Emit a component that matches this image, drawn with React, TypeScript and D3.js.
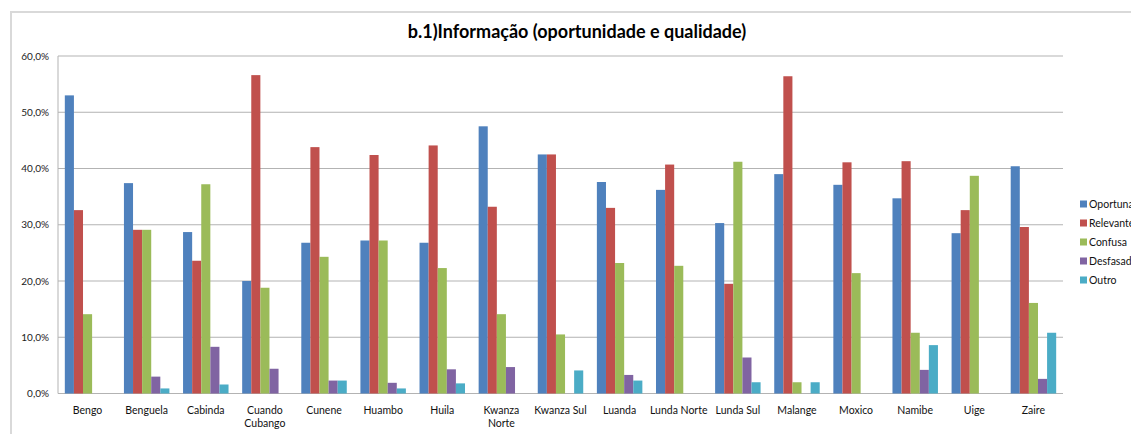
import * as d3 from "d3";

const CATEGORIES = [
  "Bengo", "Benguela", "Cabinda", "Cuando\nCubango", "Cunene", "Huambo", "Huila",
  "Kwanza\nNorte", "Kwanza Sul", "Luanda", "Lunda Norte", "Lunda Sul", "Malange",
  "Moxico", "Namibe", "Uige", "Zaire",
];

const SERIES = ["Oportuna", "Relevante", "Confusa", "Desfasada", "Outro"];

const OPORTUNA = [53.0, 37.4, 28.7, 20.0, 26.8, 27.2, 26.8, 47.5, 42.5, 37.6, 36.2, 30.3, 39.0, 37.1, 34.7, 28.5, 40.4];
const RELEVANTE = [32.6, 29.1, 23.6, 56.6, 43.8, 42.4, 44.1, 33.2, 42.5, 33.0, 40.7, 19.5, 56.4, 41.1, 41.3, 32.6, 29.6];
const CONFUSA = [14.1, 29.1, 37.2, 18.8, 24.3, 27.2, 22.3, 14.1, 10.5, 23.2, 22.7, 41.2, 2.0, 21.4, 10.8, 38.7, 16.1];
const DESFASADA = [0, 3.0, 8.3, 4.4, 2.3, 1.9, 4.3, 4.7, 0, 3.3, 0, 6.4, 0, 0, 4.2, 0, 2.6];
const OUTRO = [0, 0.9, 1.6, 0, 2.3, 0.9, 1.8, 0, 4.1, 2.3, 0, 2.0, 2.0, 0, 8.6, 0, 10.8];

const VALUES = [OPORTUNA, RELEVANTE, CONFUSA, DESFASADA, OUTRO];
const COLORS = ["#4F81BD", "#C0504D", "#9BBB59", "#8064A2", "#4BACC6"];
const Y_TICKS = [0, 10, 20, 30, 40, 50, 60];

const W = 1131;
const H = 434;
const plot = { left: 58, right: 1063, top: 56, bottom: 393.5 };
const FONT = "Lato, 'Open Sans', sans-serif";

export default function App() {
  // category bands, with the five bars of a group filling 5 of 6.5 bar widths (Excel gap 150%)
  const x0 = d3.scaleBand<string>().domain(CATEGORIES).range([plot.left, plot.right]);
  const inner = d3.scaleBand().domain(SERIES).range([0, x0.bandwidth()]).paddingInner(0).paddingOuter(0.75);
  const y = d3.scaleLinear().domain([0, 60]).range([plot.bottom, plot.top]);
  const fmt = (d: number) => d.toFixed(1).replace(".", ",") + "%";

  return (
    <svg width={W} height={H} style={{ position: "absolute", left: 0, top: 0, background: "#fff" }}>
      <rect x={11} y={12} width={W + 20} height={H + 20} fill="#fff" stroke="#d9d9d9" strokeWidth={2} />
      <text x={577} y={38} textAnchor="middle" fontFamily={FONT} fontWeight={700} fontSize={18} fill="#000">
        b.1)Informação (oportunidade e qualidade)
      </text>

      {Y_TICKS.map((t) => (
        <g key={t}>
          <line x1={plot.left} x2={plot.right} y1={y(t)} y2={y(t)} stroke="#b3b3b3" strokeWidth={1} />
          <text x={49} y={y(t)} dy="0.35em" textAnchor="end" fontFamily={FONT} fontSize={10} fill="#222">
            {fmt(t)}
          </text>
        </g>
      ))}
      <line x1={plot.left} x2={plot.left} y1={plot.top} y2={plot.bottom} stroke="#b3b3b3" />

      {CATEGORIES.map((c, ci) => (
        <g key={c} transform={`translate(${x0(c)},0)`}>
          {SERIES.map((s, si) => {
            const v = VALUES[si][ci];
            if (!v) return null;
            return (
              <rect key={s} x={inner(s)} y={y(v)} width={inner.bandwidth()} height={y(0) - y(v)} fill={COLORS[si]} />
            );
          })}
          <text x={x0.bandwidth() / 2} y={414} textAnchor="middle" fontFamily={FONT} fontSize={10.5} fill="#111">
            {c.split("\n").map((line, li) => (
              <tspan key={li} x={x0.bandwidth() / 2} dy={li === 0 ? 0 : 13}>{line}</tspan>
            ))}
          </text>
        </g>
      ))}

      {SERIES.map((s, si) => (
        <g key={s} transform={`translate(1080,${204 + si * 19})`}>
          <rect x={0} y={-3.5} width={7} height={7} fill={COLORS[si]} />
          <text x={9} y={0} dy="0.35em" fontFamily={FONT} fontSize={10.5} fill="#111">{s}</text>
        </g>
      ))}
    </svg>
  );
}
